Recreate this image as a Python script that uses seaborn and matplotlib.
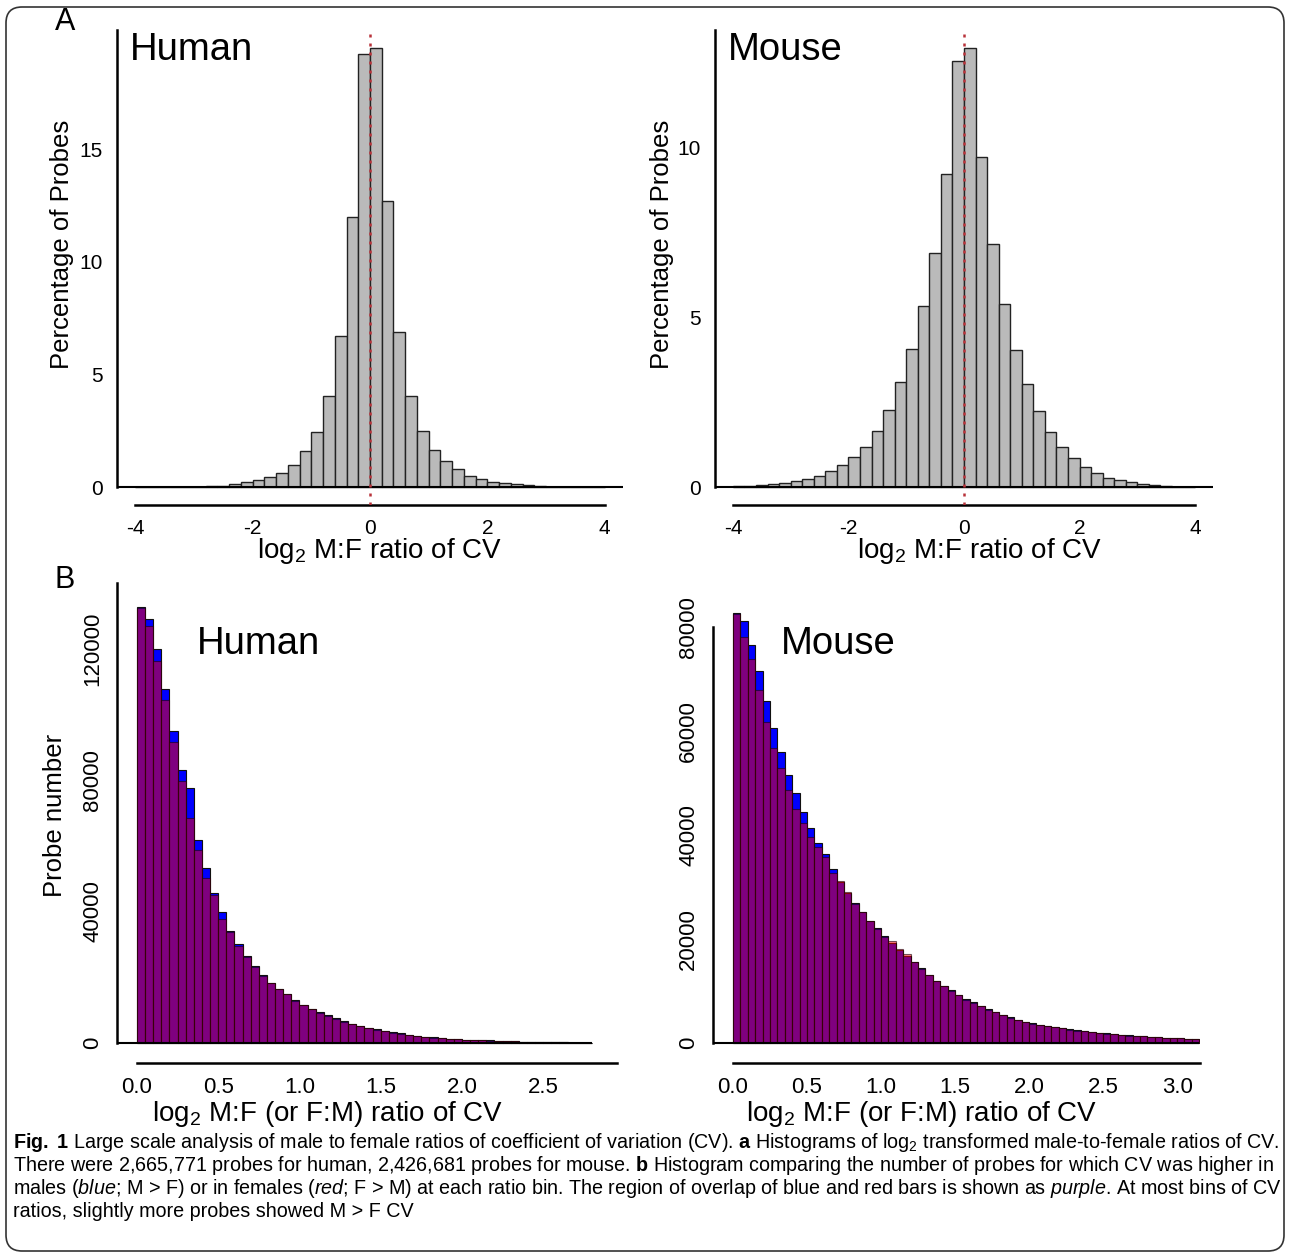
import numpy as np
import pandas as pd
import matplotlib.pyplot as plt
import seaborn as sns
from matplotlib import font_manager
from matplotlib.patches import FancyBboxPatch

# panel A: % of probes in 0.2-wide bins of log2 M:F ratio of CV, from -4 to 4
human_pct = [0.005, 0.01, 0.01, 0.015, 0.02, 0.03, 0.05, 0.08, 0.13, 0.22,
             0.33, 0.47, 0.65, 1.0, 1.6, 2.45, 4.05, 6.7, 12.0, 19.2,
             19.5, 12.7, 6.9, 4.05, 2.5, 1.65, 1.15, 0.8, 0.52, 0.36,
             0.25, 0.19, 0.13, 0.09, 0.06, 0.04, 0.03, 0.02, 0.01, 0.005]
mouse_pct = [0.03, 0.04, 0.06, 0.09, 0.12, 0.19, 0.25, 0.34, 0.49, 0.66,
             0.9, 1.2, 1.65, 2.29, 3.1, 4.08, 5.32, 6.9, 9.2, 12.54,
             12.93, 9.72, 7.17, 5.38, 4.03, 3.03, 2.25, 1.63, 1.2, 0.87,
             0.59, 0.41, 0.29, 0.22, 0.16, 0.10, 0.06, 0.04, 0.02, 0.01]
top_bin = 0.2
top_start = -4.0

# panel B: probe number per 0.05-wide bin of |log2 ratio|, M > F (blue) and F > M (red)
human_mf = [132800, 129000, 119900, 107600, 95000, 83100, 77500, 61900, 53200, 45700,
            39800, 34200, 30100, 26500, 23500, 20600, 18400, 16500, 15000, 13100,
            11700, 10400, 9400, 8400, 7500, 6600, 5900, 5300, 4700, 4100,
            3700, 3300, 2900, 2400, 2100, 1900, 1700, 1500, 1300, 1200,
            1050, 950, 850, 750, 650, 560, 480, 420, 360, 300,
            250, 200, 150, 110, 80, 50]
human_fm = [132500, 127000, 116300, 104500, 91600, 79600, 68500, 58600, 50200, 45100,
            37700, 33700, 29600, 26200, 23200, 20400, 18200, 16300, 14800, 12900,
            11500, 10200, 9200, 8200, 7300, 6400, 5700, 5100, 4500, 3950,
            3550, 3150, 2800, 2300, 2000, 1800, 1600, 1450, 1250, 1150,
            1000, 900, 800, 700, 620, 530, 460, 400, 340, 290,
            240, 190, 140, 100, 75, 45]
mouse_mf = [82750, 81150, 76480, 71550, 65800, 60480, 56000, 51520, 48130, 44480,
            41280, 38400, 36350, 33400, 31040, 28930, 26880, 25280, 23550, 22080,
            20480, 19200, 17920, 16770, 15490, 14400, 13120, 11970, 11010, 10110,
            9280, 8450, 7810, 7170, 6530, 6020, 5440, 4990, 4480, 4100,
            3800, 3550, 3300, 3080, 2870, 2670, 2480, 2300, 2130, 1980,
            1840, 1710, 1590, 1480, 1380, 1290, 1200, 1120, 1040, 970,
            900, 840, 780]
mouse_fm = [82560, 78080, 73900, 67840, 61760, 56640, 52800, 48640, 44930, 42240,
            39680, 37760, 35840, 32640, 31200, 29100, 26700, 25100, 23400, 22000,
            20300, 19520, 18000, 17090, 15600, 14300, 13000, 11900, 10900, 10000,
            9150, 8350, 7700, 7050, 6420, 5900, 5330, 4880, 4380, 4000,
            3700, 3450, 3200, 2990, 2790, 2590, 2400, 2230, 2070, 1920,
            1780, 1660, 1540, 1430, 1340, 1250, 1160, 1080, 1000, 930,
            870, 810, 750]
bot_bin = 0.05

top_xticks = [-4, -2, 0, 2, 4]
top_yticks = {'Human': [0, 5, 10, 15], 'Mouse': [0, 5, 10]}
human_b_yticks = [0, 20000, 40000, 60000, 80000, 100000, 120000, 140000]
human_b_ylabels = ['0', '', '40000', '', '80000', '', '120000', '']
mouse_b_yticks = [0, 20000, 40000, 60000, 80000]
human_b_xticks = [0.0, 0.5, 1.0, 1.5, 2.0, 2.5]
mouse_b_xticks = [0.0, 0.5, 1.0, 1.5, 2.0, 2.5, 3.0]

caption_lines = [
    r"$\mathbf{Fig.\ 1}$ Large scale analysis of male to female ratios of coefficient of variation (CV). "
    r"$\mathbf{a}$ Histograms of log$_2$ transformed male-to-female ratios of CV.",
    r"There were 2,665,771 probes for human, 2,426,681 probes for mouse. "
    r"$\mathbf{b}$ Histogram comparing the number of probes for which CV was higher in",
    r"males ($\mathit{blue}$; M > F) or in females ($\mathit{red}$; F > M) at each ratio bin. "
    r"The region of overlap of blue and red bars is shown as $\mathit{purple}$. At most bins of CV",
    r"ratios, slightly more probes showed M > F CV",
]

sns.set_style('white')
names = {f.name for f in font_manager.fontManager.ttflist}
cap_font = 'Liberation Sans Narrow' if 'Liberation Sans Narrow' in names else 'Liberation Sans'
plt.rcParams['font.family'] = ['Liberation Sans', 'DejaVu Sans']
plt.rcParams['text.color'] = 'black'
plt.rcParams['axes.unicode_minus'] = False
plt.rcParams['mathtext.fontset'] = 'custom'
plt.rcParams['mathtext.rm'] = cap_font
plt.rcParams['mathtext.it'] = cap_font + ':italic'
plt.rcParams['mathtext.bf'] = cap_font + ':bold'

W, H = 1290, 1256
fig = plt.figure(figsize=(W / 100, H / 100), dpi=100)


def px_axes(l, t, r, b):
    return fig.add_axes([l / W, 1 - b / H, (r - l) / W, (b - t) / H])


def binned(values, start, width):
    edges = [round(start + i * width, 3) for i in range(len(values) + 1)]
    df = pd.DataFrame({'x': [(a + b) / 2 for a, b in zip(edges[:-1], edges[1:])],
                       'w': values})
    return df, edges


def style_axis(ax):
    for s in ['top', 'right']:
        ax.spines[s].set_visible(False)
    for s in ['left', 'bottom']:
        ax.spines[s].set_linewidth(1.8)
        ax.spines[s].set_color('black')
    ax.tick_params(direction='out', length=7, width=1.5, colors='black', pad=3)
    ax.set_xlabel('')
    ax.set_ylabel('')


# ---- panel A ----
for name, pct, (l, r) in [('Human', human_pct, (117, 623)), ('Mouse', mouse_pct, (715, 1213))]:
    ax = px_axes(l, 30, r, 505)
    df, edges = binned(pct, top_start, top_bin)
    sns.histplot(data=df, x='x', weights='w', bins=edges, ax=ax, color='#bababa',
                 edgecolor='#222222', linewidth=1.0, alpha=1)
    ym = max(pct)
    ax.set_ylim(-0.04 * ym, 1.04 * ym)
    ax.set_xlim(-4.31, 4.31)
    ax.axhline(0, color='black', lw=1.5, zorder=3)
    ax.axvline(0, color='#b8323a', ls=(0, (1.2, 2.4)), lw=1.8, zorder=4)
    style_axis(ax)
    ax.spines['left'].set_bounds(0, 1.04 * ym)
    ax.spines['bottom'].set_bounds(-4, 4)
    ax.set_xticks(top_xticks)
    ax.set_xticklabels([str(t) for t in top_xticks], fontsize=15)
    ax.set_yticks(top_yticks[name])
    ax.set_yticklabels([str(t) for t in top_yticks[name]], fontsize=15)
    ax.text(0.025, 0.995, name, transform=ax.transAxes, fontsize=27.5, ha='left', va='top')

# ---- panel B ----
panels_b = [
    ('Human', human_mf, human_fm, (117, 617), (-0.123, 2.954), human_b_xticks,
     human_b_yticks, human_b_ylabels, (-6100, 140000), 140000, (0.16, 0.91)),
    ('Mouse', mouse_mf, mouse_fm, (713, 1200), (-0.135, 3.155), mouse_b_xticks,
     mouse_b_yticks, [str(t) for t in mouse_b_yticks], (-3850, 88460), 80000, (0.14, 0.91)),
]
for name, mf, fm, (l, r), xlim, xt, yt, ytl, ylim, ytop, tpos in panels_b:
    ax = px_axes(l, 583, r, 1063)
    df_mf, edges = binned(mf, 0.0, bot_bin)
    df_fm, _ = binned(fm, 0.0, bot_bin)
    sns.histplot(data=df_mf, x='x', weights='w', bins=edges, ax=ax, color='#0000ff',
                 edgecolor='#101010', linewidth=0.8, alpha=1)
    sns.histplot(data=df_fm, x='x', weights='w', bins=edges, ax=ax, color=(1, 0, 0),
                 edgecolor=(0.1, 0.0, 0.05, 0.6), linewidth=0.8, alpha=0.5)
    ax.set_xlim(*xlim)
    ax.set_ylim(*ylim)
    ax.hlines(0, xlim[0], edges[-1], color='black', lw=1.5, zorder=3)
    style_axis(ax)
    ax.spines['left'].set_bounds(0, ytop)
    ax.spines['bottom'].set_bounds(0, xlim[1])
    ax.set_xticks(xt)
    ax.set_xticklabels([f'{t:.1f}' for t in xt], fontsize=16)
    ax.set_yticks(yt)
    ax.set_yticklabels(ytl, fontsize=16, rotation=90, va='center')
    ax.text(tpos[0], tpos[1], name, transform=ax.transAxes, fontsize=27.5, ha='left', va='top')


def ftext(x, y, s, **kw):
    return fig.text(x / W, 1 - y / H, s, **kw)


ftext(65, 22, 'A', fontsize=22, ha='center', va='center')
ftext(65, 580, 'B', fontsize=22, ha='center', va='center')
ftext(62, 244, 'Percentage of Probes', fontsize=18.5, rotation=90, ha='center', va='center')
ftext(662, 244, 'Percentage of Probes', fontsize=18.5, rotation=90, ha='center', va='center')
ftext(55, 815, 'Probe number', fontsize=18.5, rotation=90, ha='center', va='center')
ftext(380, 558, r'log$_2$ M:F ratio of CV', fontsize=20, ha='center', va='baseline')
ftext(980, 558, r'log$_2$ M:F ratio of CV', fontsize=20, ha='center', va='baseline')
ftext(328, 1121, r'log$_2$ M:F (or F:M) ratio of CV', fontsize=20, ha='center', va='baseline')
ftext(922, 1121, r'log$_2$ M:F (or F:M) ratio of CV', fontsize=20, ha='center', va='baseline')

# caption, sized so the first (justified) line spans the box width
cap = [ftext(13, 1143 + i * 22.7, line, fontsize=13, family=[cap_font, 'DejaVu Sans'],
             ha='left', va='center') for i, line in enumerate(caption_lines)]
renderer = fig.canvas.get_renderer()
scale = 1262 / cap[0].get_window_extent(renderer).width
for t in cap:
    t.set_fontsize(13 * scale)

border = FancyBboxPatch((0.06, 0.05), W / 100 - 0.12, H / 100 - 0.12,
                        boxstyle='round,pad=0,rounding_size=0.16',
                        transform=fig.dpi_scale_trans, fill=False,
                        edgecolor='#333333', linewidth=1.2)
fig.patches.append(border)

fig.savefig('out.png', dpi=100)
